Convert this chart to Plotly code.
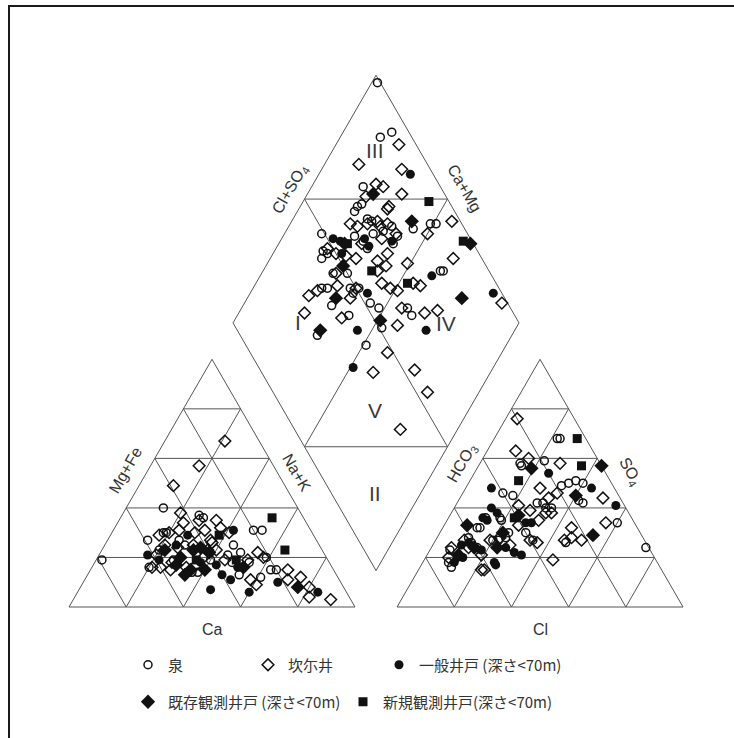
import math
import plotly.graph_objects as go

# ---------------- data (percent values) ----------------
SERIES = ["泉", "坎尓井", "一般井戸 (深さ&lt;70m)", "既存観測井戸 (深さ&lt;70m)", "新規観測井戸(深さ&lt;70m)"]

# cation triangle: Mg+Fe % and Na+K % (Ca = rest)
izumi_mg = [19, 40, 37, 36, 30, 30, 27, 16, 14, 14, 31, 31, 25, 22, 18, 13, 21, 15, 15, 20, 12, 23, 25, 19, 19, 18, 27]
izumi_nak = [2, 13, 27, 29, 18, 19, 14, 20, 36, 38, 49, 52, 45, 49, 48, 53, 45, 63, 65, 59, 61, 20, 28, 40, 27, 54, 25]
karez_mg = [67, 57, 49, 38, 35, 32, 35, 34, 30, 30, 29, 16, 16, 18, 16, 20, 26, 23, 23, 19, 22, 20, 11, 9, 15, 11, 12, 8, 4, 3, 25, 24, 30,
            21, 15, 17, 27, 19, 31, 25, 31]
karez_nak = [21, 17, 12, 20, 34, 37, 28, 23, 29, 20, 17, 21, 24, 27, 33, 37, 37, 40, 37, 53, 55, 58, 58, 61, 69, 71, 75, 80, 82, 90, 31, 26, 41,
             20, 28, 36, 36, 45, 23, 21, 32]
ippan_mg = [21, 31, 7, 11, 6, 10, 6, 16, 29, 18, 25, 13, 19, 17]
ippan_nak = [17, 42, 46, 51, 60, 68, 84, 51, 27, 37, 25, 47, 22, 43]
kison_mg = [8, 20, 23, 23, 22, 15, 13, 16, 17, 24, 15]
kison_nak = [76, 29, 32, 22, 38, 40, 34, 53, 29, 34, 35]
shinki_mg = [36, 23, 29, 19, 19]
shinki_nak = [53, 64, 38, 35, 49]

# anion triangle: SO4 % and Cl % (HCO3 = rest)
izumi_so4 = [68, 68, 58, 57, 59, 49, 50, 51, 50, 43, 42, 46, 45, 42, 42, 32, 36, 30, 27, 40, 40, 26, 34, 24, 23, 16, 28, 26, 36, 35, 27, 27, 28, 30, 24, 18, 32]
izumi_cl = [22, 23, 14, 15, 22, 33, 35, 37, 40, 42, 44, 14, 18, 28, 30, 13, 13, 30, 34, 32, 34, 46, 60, 75, 7, 11, 11, 13, 18, 19, 20, 22, 24, 24, 16, 9, 12]
karez_so4 = [76, 63, 60, 58, 48, 44, 44, 46, 38, 38, 32, 27, 28, 27, 34, 19, 15, 27, 28, 27, 24, 24, 20, 15, 26, 33, 25, 39, 35, 21, 27, 41]
karez_cl = [4, 10, 16, 28, 26, 50, 31, 33, 33, 35, 45, 45, 47, 51, 56, 45, 22, 19, 22, 10, 13, 7, 8, 23, 36, 26, 27, 27, 32, 19, 33, 22]
ippan_so4 = [54, 48, 41, 48, 40, 38, 34, 34, 22, 21, 17, 20, 26, 23, 18, 36, 18, 25, 35, 24]
ippan_cl = [26, 44, 56, 9, 13, 16, 28, 30, 30, 33, 26, 13, 12, 18, 25, 12, 11, 10, 14, 26]
kison_so4 = [57, 45, 29, 33, 56, 24, 24, 30, 21, 37]
kison_cl = [43, 40, 54, 8, 19, 15, 23, 22, 11, 24]
shinki_so4 = [68, 57, 51, 36]
shinki_cl = [29, 36, 17, 23]

# diamond: Ca+Mg % and Cl+SO4 %
izumi_camg = [98, 83, 86, 82, 80, 79, 80, 74, 72, 64, 56, 51, 49, 87, 75, 69, 66, 60, 71, 68, 81, 82, 83, 38, 37, 70, 75, 76, 74, 66, 64, 63, 56, 52, 42, 39, 69, 61, 68, 47, 49, 60]
izumi_clso4 = [99, 94, 89, 73, 67, 69, 65, 68, 69, 75, 82, 89, 91, 49, 60, 67, 71, 72, 62, 62, 47, 44, 46, 83, 84, 50, 45, 38, 40, 48, 48, 51, 52, 54, 64, 64, 38, 42, 27, 51, 42, 75]
karez_camg = [78, 88, 72, 78, 75, 67, 79, 69, 69, 70, 66, 79, 76, 50, 44, 65, 61, 60, 71, 82, 78, 70, 74, 62, 58, 60, 51, 36, 45, 42, 56, 52, 49, 74, 64, 79, 77, 71, 64, 10, 44, 35, 31, 77, 63, 42, 40, 41, 27, 18, 20, 68, 73]
karez_clso4 = [94, 76, 90, 78, 80, 85, 72, 78, 77, 71, 74, 61, 63, 86, 97, 69, 75, 68, 61, 48, 50, 56, 53, 63, 65, 61, 73, 90, 71, 73, 60, 62, 64, 46, 50, 32, 36, 44, 46, 98, 62, 69, 74, 27, 39, 57, 48, 39, 54, 54, 37, 71, 67]
ippan_camg = [68, 82, 79, 71, 68, 61, 40, 59, 15, 55, 31, 49, 76]
ippan_clso4 = [92, 52, 54, 63, 63, 72, 79, 53, 97, 42, 66, 33, 52]
kison_camg = [77, 58, 33, 77, 73, 69, 25, 49, 68]
kison_clso4 = [75, 83, 99, 55, 50, 41, 85, 52, 29]
shinki_camg = [56, 36, 62, 47, 76]
shinki_clso4 = [93, 97, 59, 69, 56]

# ---------------- geometry ----------------
H = math.sqrt(3) / 2
GAP = 0.147
W_PX, H_PX = 734, 738
SIDE_PX = 286.0
OX_PX, OY_PX = 69.0, 607.0


def px(xp, yp):
    return (xp - OX_PX) / SIDE_PX, (OY_PX - yp) / SIDE_PX


B = (1 + GAP / 2, GAP / 2 * math.sqrt(3))
E1 = (-0.5, H)   # towards Ca+Mg corner
E2 = (0.5, H)    # towards Cl+SO4 corner


def cation_xy(mg, nak):
    return [n / 100 + m / 200 for m, n in zip(mg, nak)], [m / 100 * H for m in mg]


def anion_xy(so4, cl):
    return [1 + GAP + c / 100 + s / 200 for s, c in zip(so4, cl)], [s / 100 * H for s in so4]


def diamond_xy(camg, clso4):
    xs = [B[0] + c / 100 * E1[0] + a / 100 * E2[0] for c, a in zip(camg, clso4)]
    ys = [B[1] + c / 100 * E1[1] + a / 100 * E2[1] for c, a in zip(camg, clso4)]
    return xs, ys


# frame lines
lx, ly = [], []


def seg(p, q):
    lx.extend([p[0], q[0], None])
    ly.extend([p[1], q[1], None])


def triangle(ox):
    A, Bv, C = (ox, 0), (ox + 1, 0), (ox + 0.5, H)
    seg(A, Bv); seg(Bv, C); seg(C, A)
    for k in range(1, 5):
        t = k / 5
        seg((ox + t * 0.5, t * H), (ox + 1 - t * 0.5, t * H))
        seg((ox + t, 0), (ox + t + 0.5 * (1 - t), (1 - t) * H))
        seg((ox + t, 0), (ox + 0.5 * t, t * H))


triangle(0)
triangle(1 + GAP)
DL = (B[0] + E1[0], B[1] + E1[1])
DR = (B[0] + E2[0], B[1] + E2[1])
DT = (B[0] + E1[0] + E2[0], B[1] + E1[1] + E2[1])
seg(B, DL); seg(DL, DT); seg(DT, DR); seg(DR, B)


def mid(p, q):
    return ((p[0] + q[0]) / 2, (p[1] + q[1]) / 2)


mUL, mUR, mLL, mLR = mid(DL, DT), mid(DT, DR), mid(B, DL), mid(B, DR)
seg(mUL, mUR); seg(mLL, mLR); seg(mUL, mLR); seg(mUR, mLL)

fig = go.Figure()
fig.add_trace(go.Scatter(x=lx, y=ly, mode="lines", line=dict(color="#555555", width=1),
                         hoverinfo="skip", showlegend=False))

series_data = [
    (izumi_mg, izumi_nak, izumi_so4, izumi_cl, izumi_camg, izumi_clso4),
    (karez_mg, karez_nak, karez_so4, karez_cl, karez_camg, karez_clso4),
    (ippan_mg, ippan_nak, ippan_so4, ippan_cl, ippan_camg, ippan_clso4),
    (kison_mg, kison_nak, kison_so4, kison_cl, kison_camg, kison_clso4),
    (shinki_mg, shinki_nak, shinki_so4, shinki_cl, shinki_camg, shinki_clso4),
]
styles = [
    dict(symbol="circle-open", size=8, color="#111111", line=dict(width=1.5, color="#111111")),
    dict(symbol="diamond-open", size=9, color="#111111", line=dict(width=1.5, color="#111111")),
    dict(symbol="circle", size=9, color="#111111", line=dict(width=0)),
    dict(symbol="diamond", size=11, color="#111111", line=dict(width=0)),
    dict(symbol="square", size=9, color="#111111", line=dict(width=0)),
]
legend_ids = ["legend", "legend2", "legend3", "legend4", "legend5"]

for name, d, st, lg in zip(SERIES, series_data, styles, legend_ids):
    x1, y1 = cation_xy(d[0], d[1])
    x2, y2 = anion_xy(d[2], d[3])
    x3, y3 = diamond_xy(d[4], d[5])
    fig.add_trace(go.Scatter(x=x1 + x2 + x3, y=y1 + y2 + y3, mode="markers", name=name,
                             marker=st, legend=lg, hoverinfo="skip"))

# labels
LAB_FONT = dict(family="Liberation Sans, Arial, sans-serif", size=16, color="#333333")
ROM_FONT = dict(family="Liberation Sans, Arial, sans-serif", size=21, color="#3a3a3a")
labels = [
    ("Mg+Fe", 125, 470, -60, LAB_FONT), ("Na+K", 297, 472, 60, LAB_FONT),
    ("Ca", 212, 629, 0, LAB_FONT), ("Cl", 540, 629, 0, LAB_FONT),
    ("HCO<sub>3</sub>", 462, 463, -60, LAB_FONT), ("SO<sub>4</sub>", 630, 471, 60, LAB_FONT),
    ("Cl+SO<sub>4</sub>", 290, 189, -60, LAB_FONT), ("Ca+Mg", 465, 188, 60, LAB_FONT),
    ("III", 375, 150, 0, ROM_FONT), ("I", 298, 322, 0, ROM_FONT), ("IV", 446, 323, 0, ROM_FONT),
    ("V", 375, 410, 0, ROM_FONT), ("II", 375, 493, 0, ROM_FONT),
]
annotations = []
for txt, xp, yp, ang, fnt in labels:
    ux, uy = px(xp, yp)
    annotations.append(dict(x=ux, y=uy, xref="x", yref="y", text=txt, showarrow=False,
                            textangle=ang, font=fnt, xanchor="center", yanchor="middle"))

# legends (one per entry, positioned like the original two-row key)
LEG_FONT = dict(family="Noto Sans CJK JP, sans-serif", size=15, color="#333333")
legend_pos = [(148, 665), (268, 665), (399, 665), (148, 702), (363, 702)]
legend_layout = {}
for lg, (sx, sy) in zip(legend_ids, legend_pos):
    legend_layout[lg] = dict(x=(sx - 20) / W_PX, y=1 - sy / H_PX, xanchor="left", yanchor="middle",
                             bgcolor="rgba(0,0,0,0)", borderwidth=0, font=LEG_FONT,
                             itemwidth=30, tracegroupgap=0)

x0u, yTopu = px(0, 0)
x1u, yBotu = px(W_PX, H_PX)

fig.update_layout(
    width=W_PX, height=H_PX,
    margin=dict(l=0, r=0, t=0, b=0),
    paper_bgcolor="white", plot_bgcolor="white",
    xaxis=dict(range=[x0u, x1u], visible=False, fixedrange=True),
    yaxis=dict(range=[yBotu, yTopu], visible=False, fixedrange=True),
    annotations=annotations,
    shapes=[dict(type="rect", xref="paper", yref="paper", x0=9 / W_PX, x1=1.05,
                 y0=-0.05, y1=1 - 6 / H_PX, line=dict(color="#1a1a1a", width=2))],
    **legend_layout,
)

fig.write_html("out.html", config={"displayModeBar": False},
               post_script="document.body.style.margin='0';document.body.style.overflow='hidden';")
